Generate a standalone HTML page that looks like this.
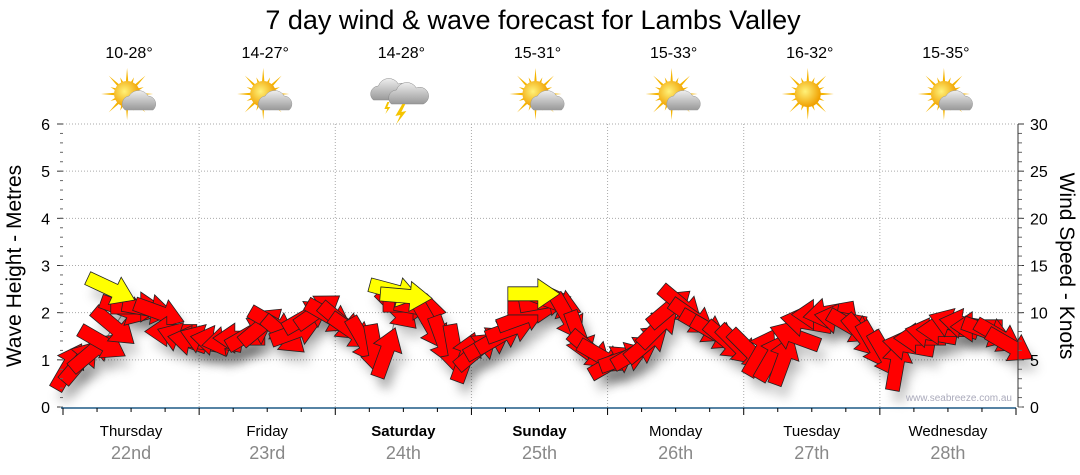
<!DOCTYPE html>
<html><head><meta charset="utf-8"><style>
body{margin:0;background:#fff;}
svg{display:block;font-family:"Liberation Sans","DejaVu Sans",sans-serif;}
</style></head><body>
<svg id="chart" width="1080" height="475" viewBox="0 0 1080 475">
<defs>
<filter id="sh" x="-50%" y="-50%" width="200%" height="200%"><feGaussianBlur stdDeviation="5"/></filter>
<radialGradient id="sun" cx="0.4" cy="0.4" r="0.6"><stop offset="0" stop-color="#fff27a"/><stop offset="1" stop-color="#f0a000"/></radialGradient>
<linearGradient id="cloud" x1="0" y1="0" x2="0" y2="1"><stop offset="0" stop-color="#eee"/><stop offset="1" stop-color="#999"/></linearGradient>
</defs>
<text x="533" y="29" text-anchor="middle" font-size="27" fill="#000">7 day wind &amp; wave forecast for Lambs Valley</text>
<g id="grid"></g>
<g id="icons"></g>
<g id="shadows"></g>
<g id="marks"></g>
<g id="axes"></g>
<text x="1012" y="401" text-anchor="end" font-size="10" fill="#aab">www.seabreeze.com.au</text>
<text transform="translate(21,266) rotate(-90)" text-anchor="middle" font-size="21" fill="#000">Wave Height - Metres</text>
<text transform="translate(1060,266) rotate(90)" text-anchor="middle" font-size="21" fill="#000">Wind Speed - Knots</text>
</svg>
<script>
const days=["Thursday","Friday","Saturday","Sunday","Monday","Tuesday","Wednesday"];
const dates=["22nd","23rd","24th","25th","26th","27th","28th"];
const temps=["10-28°","14-27°","14-28°","15-31°","15-33°","16-32°","15-35°"];
const weather=["partly","partly","storm","partly","partly","sunny","partly"];
const boldDays=[false,false,true,true,false,false,false];
const waveTicks=[0,1,2,3,4,5,6];
const windTicks=[0,5,10,15,20,25,30];
const windHours=[1,3,5,7,9,11,13,15,17,19,21,23, 25,27,29,31,33,35,37,39,41,43,45,47, 49,51,53,55,57,59,61,63,65,67,69,71, 73,75,77,79,81,83,85,87,89,91,93,95, 97,99,101,103,105,107,109,111,113,115,117,119, 121,123,125,127,129,131,133,135,137,139,141,143, 145,147,149,151,153,155,157,159,161,163,165,167];
const windSpeed=[4.3,4.8,5.8,6.8,8.5,10.3,10.6,10.4,10.0,8.0,7.3,7.0,
 7.1,7.0,7.0,7.3,7.8,8.6,8.8,7.6,8.0,9.6,10.2,9.6,
 9.0,8.0,7.0,6.0,5.8,10.3,10.8,10.5,8.5,7.0,6.0,5.3,
 6.0,6.8,7.5,8.3,9.5,10.5,11.2,11.0,9.5,7.5,6.0,5.3,
 4.8,5.2,5.8,6.8,8.5,10.5,10.8,9.5,8.5,7.8,7.0,6.5,
 6.0,5.8,5.3,5.0,7.5,9.0,9.8,10.0,9.3,8.5,7.5,6.5,
 5.5,4.5,6.5,7.3,7.8,8.2,8.8,8.8,8.5,8.0,7.5,6.5];
const windDir=[-60,-50,-40,30,40,20,0,10,20,180,200,190,
 200,190,170,180,-30,-40,30,40,-20,-30,-35,30,
 40,35,60,80,-70,45,0,10,60,70,80,-70,
 -40,-30,-30,-20,-20,0,-10,20,60,70,40,30,
 -30,-20,-30,-40,-45,-40,40,35,30,30,40,45,
 45,-60,-60,-70,200,190,180,170,190,30,50,60,
 60,-80,190,180,190,180,200,190,180,20,30,30];
const waveHours=[8.5,58.5,60.5,83];
const waveHeight=[2.5,2.45,2.35,2.4];
const waveDir=[25,15,5,0];

const NS="http://www.w3.org/2000/svg";
const X0=63,X1=1016,Y0=407,Y6=124;
const xH=h=>X0+(X1-X0)*h/168;
const yM=m=>Y0-(Y0-Y6)*m/6;
const yK=k=>Y0-(Y0-Y6)*k/30;
function mk(tag,attrs,parent){const e=document.createElementNS(NS,tag);for(const k in attrs)e.setAttribute(k,attrs[k]);parent.appendChild(e);return e;}
const grid=document.getElementById('grid'),axes=document.getElementById('axes'),marks=document.getElementById('marks'),shadows=document.getElementById('shadows'),icons=document.getElementById('icons');
waveTicks.forEach(t=>{
  if(t>0){const l=mk('line',{x1:X0,x2:X1,y1:yM(t),y2:yM(t),stroke:'#aaa','stroke-dasharray':'1,2'},grid);
  
  }
  const tx=mk('text',{x:50,y:yM(t)+6,'text-anchor':'end','font-size':16,fill:'#000'},axes);tx.textContent=t;
  
  
  mk('line',{x1:X0-6,x2:X0,y1:yM(t),y2:yM(t),stroke:'#333'},axes);
});
for(let m=0;m<6;m+=0.2){mk('line',{x1:X0-3,x2:X0,y1:yM(m),y2:yM(m),stroke:'#666'},axes);}
windTicks.forEach(t=>{
  const tx=mk('text',{x:1030,y:yK(t)+6,'font-size':16,fill:'#000'},axes);tx.textContent=t;
  
  
  mk('line',{x1:X1+2,x2:X1+8,y1:yK(t),y2:yK(t),stroke:'#333'},axes);
});
for(let k=0;k<30;k++){mk('line',{x1:X1+2,x2:X1+6,y1:yK(k),y2:yK(k),stroke:'#666'},axes);}
mk('line',{x1:X1+2,x2:X1+2,y1:Y6,y2:Y0,stroke:'#333'},axes);
mk('line',{x1:X0-2,x2:X1,y1:Y0+1,y2:Y0+1,stroke:'#1f5a85','stroke-width':1.5},axes);
for(let h=0;h<=168;h+=6){mk('line',{x1:xH(h),x2:xH(h),y1:Y0+1,y2:Y0+(h%24==0?8:5),stroke:'#000'},axes);}
days.forEach((d,i)=>{
  const cx=xH(i*24+12);
  if(i>0){const l=mk('line',{x1:xH(i*24),x2:xH(i*24),y1:Y6,y2:Y0,stroke:'#aaa','stroke-dasharray':'1,2'},grid);
  
  }
  const t=mk('text',{x:cx,y:436,'text-anchor':'middle','font-size':15,fill:'#000','font-weight':boldDays[i]?'bold':'normal'},axes);t.textContent=d;
  
  
  const t2=mk('text',{x:cx,y:459,'text-anchor':'middle','font-size':18,fill:'#888'},axes);t2.textContent=dates[i];
  
  
  const t3=mk('text',{x:cx-2,y:58,'text-anchor':'middle','font-size':16,fill:'#000'},icons);t3.textContent=temps[i];
  
  
  const g=mk('g',{transform:`translate(${cx-4},94)`},icons);
  
  
  if(weather[i]!=='storm'){
    for(let a=0;a<16;a++){const r=a%2?18:26;const ang=a*Math.PI/8;mk('polygon',{points:`${Math.cos(ang-0.12)*11},${Math.sin(ang-0.12)*11} ${Math.cos(ang)*r},${Math.sin(ang)*r} ${Math.cos(ang+0.12)*11},${Math.sin(ang+0.12)*11}`,fill:'#f5b400'},g);}
    mk('circle',{cx:0,cy:0,r:13,fill:'url(#sun)'},g);
  }
  if(weather[i]==='partly'){
    mk('path',{d:'M-2,16 a8,8 0 0 1 4,-14 a11,11 0 0 1 19,0 a8,8 0 0 1 5,14 z',fill:'url(#cloud)',stroke:'#999','stroke-width':0.5},g);
  }
  if(weather[i]==='storm'){
    mk('path',{d:'M-26,6 a8,8 0 0 1 5,-14 a11,11 0 0 1 20,-2 a8,8 0 0 1 7,16 z',fill:'url(#cloud)',stroke:'#888','stroke-width':0.5},g);
    mk('path',{d:'M-8,10 a8,8 0 0 1 5,-14 a11,11 0 0 1 20,-2 a8,8 0 0 1 7,16 z',fill:'url(#cloud)',stroke:'#888','stroke-width':0.5},g);
    mk('polygon',{points:'3,10 -4,22 1,21 -3,30 7,17 2,18 6,10',fill:'#f5c400'},g);
    mk('polygon',{points:'-12,8 -15,15 -12,15 -14,20 -9,13 -12,13 -10,8',fill:'#f5c400'},g);
  }
});
const arrowPts="-26,-7 4,-7 4,-15 26,0 4,15 4,7 -26,7";
function arrow(x,y,rot,fill){
  const s=mk('polygon',{points:arrowPts,transform:`translate(${x+6},${y+12}) rotate(${rot})`,fill:'#000','fill-opacity':0.18,filter:'url(#sh)'},shadows);
  
  
  const p=mk('polygon',{points:arrowPts,transform:`translate(${x},${y}) rotate(${rot})`,fill:fill,stroke:'#222','stroke-width':0.8},marks);
  return p;
}
let path='';
windSpeed.forEach((v,i)=>{path+=(i?'L':'M')+xH(windHours[i])+','+yK(v);});
const ln=mk('path',{d:path,fill:'none',stroke:'#888','stroke-width':1},shadows);


windSpeed.forEach((v,i)=>{
  const p=arrow(xH(windHours[i]),yK(v),windDir[i],'#ff0000');
  
  
});
waveHeight.forEach((v,i)=>{
  const p=arrow(xH(waveHours[i]),yM(v),waveDir[i],'#ffff00');
  
  
});
</script>
</body></html>
